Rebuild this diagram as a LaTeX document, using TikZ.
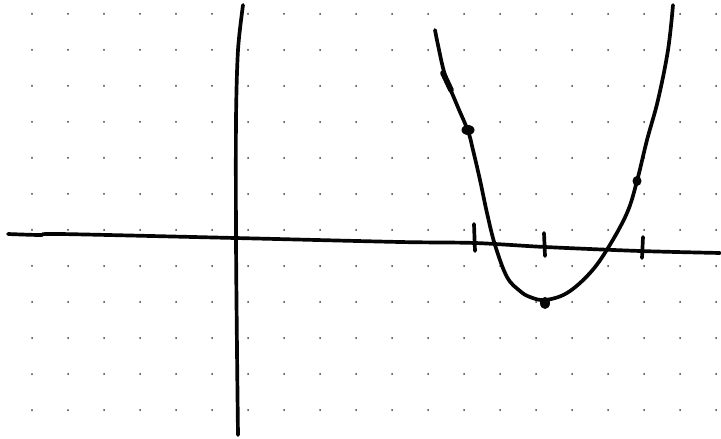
\documentclass[tikz,border=0pt]{standalone}
\usepackage{tikz}
\usetikzlibrary{calc}
\definecolor{inkblack}{RGB}{5,5,5}
\definecolor{dotgray}{RGB}{60,60,60}

\begin{document}
\begin{tikzpicture}[x=0.02cm,y=-0.02cm,
    ink/.style={inkblack, line width=2.1pt, line cap=round, line join=round}]
        \useasboundingbox[fill=white] (0,0) rectangle (721,439);
        % Dot grid
        \foreach \x in {32,68,...,716} {
            \foreach \y in {14,50,...,410} {
                \fill[dotgray] (\x,\y) circle (1);
            }
        }
        % Axes
        \draw[ink] plot[smooth] coordinates {(8,234) (40,235) (60,234) (235,238) (400,242) (475,243) (545,247) (640,251) (720,253)};
        \draw[ink] plot[smooth] coordinates {(243,5) (238,50) (236,120) (236,238) (237,350) (238,435)};
        % Tick marks
        \draw[ink] (474,224) -- (475,251);
        \draw[ink] (544,233) -- (545,256);
        \draw[ink] (643,237) -- (642,258);
        % Parabola
        \draw[ink] plot[smooth, tension=0.6] coordinates {(435,30) (438,45) (445,75) (457,105) (468,131) (473,150) (480,180) (487,213) (495,245) (507,277) (520,291) (530,297) (545,300) (567,293) (590,273) (608,248) (627,213) (637,181) (647,140) (658,100) (668,50) (673,5)};
        \draw[ink, line width=3.2pt] (443,73) -- (451,90);
        % Points
        \fill[inkblack] (468,130) ellipse (6.5 and 5);
        \fill[inkblack] (545,303) ellipse (5 and 6);
        \fill[inkblack] (637,181) ellipse (4.5 and 5);
    \end{tikzpicture}
\end{document}
